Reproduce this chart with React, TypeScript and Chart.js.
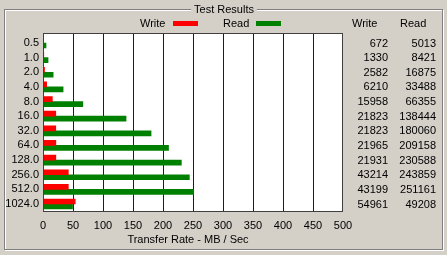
import React, { useEffect, useRef } from 'react';
import { Chart, registerables } from 'chart.js';

Chart.register(...registerables);

const blockSizes = ['0.5', '1.0', '2.0', '4.0', '8.0', '16.0', '32.0', '64.0', '128.0', '256.0', '512.0', '1024.0'];
const writeKB = [672, 1330, 2582, 6210, 15958, 21823, 21823, 21965, 21931, 43214, 43199, 54961];
const readKB = [5013, 8421, 16875, 33488, 66355, 138444, 180060, 209158, 230588, 243859, 251161, 49208];
const writeMB = [0.66, 1.3, 2.52, 6.06, 15.6, 21.3, 21.3, 21.4, 21.4, 42.2, 42.2, 53.7];
const readMB = [5.0, 8.4, 16.9, 33.5, 66.4, 138.4, 180.1, 209.2, 230.6, 243.9, 251.2, 49.2];
const xMin = 0;
const xMax = 500;
const xStep = 50;
const groupTitle = 'Test Results';
const axisTitle = 'Transfer Rate - MB / Sec';
const seriesNames = ['Write', 'Read'];

const BG = '#D4D0C8';
const RED = '#FF0000';
const GREEN = '#008000';
const FAMILY = '"Liberation Sans", Arial, sans-serif';
const FONT = '11px ' + FAMILY;

const framePlugin = {
  id: 'frame',
  beforeDraw(chart: any) {
    const { ctx, width, height, chartArea } = chart;
    ctx.save();
    ctx.fillStyle = BG;
    ctx.fillRect(0, 0, width, height);
    ctx.lineWidth = 1;
    ctx.strokeStyle = '#FFFFFF';
    ctx.strokeRect(5.5, 10.5, 438, 240);
    ctx.strokeStyle = '#808080';
    ctx.strokeRect(4.5, 9.5, 438, 240);
    // group title
    ctx.font = FONT;
    ctx.fillStyle = BG;
    const tw = ctx.measureText(groupTitle).width;
    ctx.fillRect(224 - tw / 2 - 3, 3, tw + 6, 14);
    ctx.fillStyle = '#000';
    ctx.textAlign = 'center';
    ctx.textBaseline = 'middle';
    ctx.fillText(groupTitle, 224, 10);
    // legend
    ctx.textAlign = 'left';
    ctx.fillText(seriesNames[0], 140, 24);
    ctx.fillText(seriesNames[1], 223, 24);
    ctx.fillStyle = RED;
    ctx.fillRect(173, 21, 25, 5);
    ctx.fillStyle = GREEN;
    ctx.fillRect(256, 21, 25, 5);
    // table headers
    ctx.fillStyle = '#000';
    ctx.fillText(seriesNames[0], 352, 24);
    ctx.fillText(seriesNames[1], 400, 24);
    // plot background
    const top = Math.round(chartArea.top) - 3;
    const bottom = Math.floor(chartArea.bottom);
    ctx.fillStyle = '#FFFFFF';
    ctx.fillRect(chartArea.left, top, chartArea.right - chartArea.left, bottom - top + 1);
    ctx.restore();
  },
  beforeDatasetsDraw(chart: any) {
    const { ctx, chartArea, scales } = chart;
    const top = Math.round(chartArea.top) - 3;
    const bottom = Math.floor(chartArea.bottom);
    ctx.save();
    ctx.strokeStyle = '#0000FF';
    ctx.lineWidth = 1;
    for (let v = xMin + xStep; v < xMax; v += xStep) {
      const x = Math.round(scales.x.getPixelForValue(v)) + 0.5;
      ctx.beginPath();
      ctx.moveTo(x, top);
      ctx.lineTo(x, bottom + 1);
      ctx.stroke();
    }
    ctx.restore();
  },
  afterDatasetsDraw(chart: any) {
    const { ctx, chartArea, scales } = chart;
    const top = Math.round(chartArea.top) - 3;
    const bottom = Math.floor(chartArea.bottom);
    ctx.save();
    ctx.strokeStyle = '#404040';
    ctx.lineWidth = 1;
    ctx.strokeRect(chartArea.left + 0.5, top + 0.5, chartArea.right - chartArea.left - 1, bottom - top);
    ctx.font = FONT;
    ctx.fillStyle = '#000';
    ctx.textBaseline = 'middle';
    ctx.textAlign = 'right';
    for (let i = 0; i < blockSizes.length; i++) {
      const y = scales.y.getPixelForValue(i);
      ctx.fillText(String(writeKB[i]), 388, y + 0.5);
      ctx.fillText(String(readKB[i]), 436, y + 0.5);
    }
    ctx.textAlign = 'center';
    ctx.fillText(axisTitle, 188, 239.5);
    ctx.restore();
  },
};

export default function App() {
  const ref = useRef<HTMLCanvasElement | null>(null);
  useEffect(() => {
    if (!ref.current) return;
    const chart = new Chart(ref.current, {
      type: 'bar',
      data: {
        labels: blockSizes,
        datasets: [
          { label: seriesNames[0], data: writeMB, backgroundColor: RED, borderWidth: 0, barThickness: 5 },
          { label: seriesNames[1], data: readMB, backgroundColor: GREEN, borderWidth: 0, barThickness: 5 },
        ],
      },
      options: {
        indexAxis: 'y',
        animation: false,
        responsive: false,
        maintainAspectRatio: false,
        layout: { padding: { top: 35.7, right: 104, bottom: 0, left: 0 } },
        plugins: {
          legend: { display: false },
          title: { display: false },
          tooltip: { enabled: false },
        },
        scales: {
          x: {
            type: 'linear',
            min: xMin,
            max: xMax,
            ticks: {
              stepSize: xStep,
              autoSkip: false,
              maxRotation: 0,
              color: '#000',
              padding: 8.5,
              font: { family: FAMILY, size: 11 },
            },
            grid: { display: false, drawTicks: false },
            border: { display: false },
            afterFit: (s: any) => { s.height = 43.7; },
          },
          y: {
            type: 'category',
            ticks: {
              color: '#000',
              padding: 4,
              autoSkip: false,
              font: { family: FAMILY, size: 11 },
            },
            grid: { display: false, drawTicks: false },
            border: { display: false },
            afterFit: (s: any) => { s.width = 43; },
          },
        },
      },
      plugins: [framePlugin],
    } as any);
    return () => chart.destroy();
  }, []);
  return (
    <div style={{ position: 'fixed', left: 0, top: 0, width: 447, height: 255, background: BG }}>
      <canvas ref={ref} width={447} height={255} style={{ display: 'block' }} />
    </div>
  );
}
